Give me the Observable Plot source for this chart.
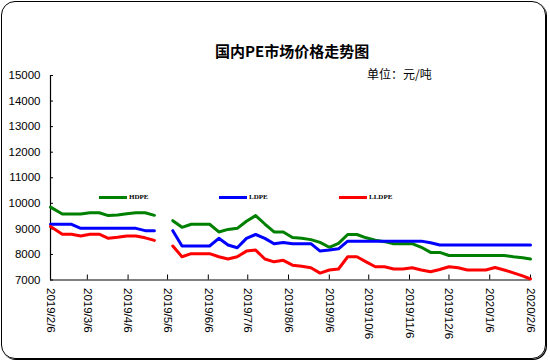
<!DOCTYPE html>
<html><head><meta charset="utf-8">
<script src="https://cdn.jsdelivr.net/npm/d3@7"></script>
<script src="https://cdn.jsdelivr.net/npm/@observablehq/plot@0.6"></script>
<style>
body{margin:0;background:#fff;}
#wrap{position:relative;width:550px;height:364px;overflow:hidden;font-family:"Liberation Sans",Arial,sans-serif;}
#frame{position:absolute;left:1px;top:1px;width:543px;height:356px;border:1.5px solid #000;border-radius:14px;box-shadow:1px 1px 0 #000;}
#chart{position:absolute;left:0;top:0;}
#title{position:absolute;left:215px;top:40px;width:150px;text-align:center;font:bold 15px "Noto Sans CJK SC";color:#000;white-space:nowrap;}
#unit{position:absolute;left:367px;top:65px;font:12px "Noto Sans CJK SC";color:#000;white-space:nowrap;}
.lg{position:absolute;top:193px;height:10px;font:bold 7px "Liberation Serif",serif;color:#000;white-space:nowrap;}
.lg span.sw{display:inline-block;width:28px;height:3px;vertical-align:middle;margin-right:2px;}
</style></head>
<body>
<div id="wrap">
  <div id="frame"></div>
  <div id="chart"></div>
  <div id="title">国内PE市场价格走势图</div>
  <div id="unit">单位：元/吨</div>
  <div id="legend"></div>
</div>
<script>
const dates = ["2019-02-06","2019-02-15","2019-02-22","2019-03-01","2019-03-08","2019-03-15","2019-03-22","2019-03-29","2019-04-05","2019-04-12","2019-04-19","2019-04-26","2019-05-03","2019-05-10","2019-05-17","2019-05-24","2019-05-31","2019-06-07","2019-06-14","2019-06-21","2019-06-28","2019-07-05","2019-07-12","2019-07-19","2019-07-26","2019-08-02","2019-08-09","2019-08-16","2019-08-23","2019-08-30","2019-09-06","2019-09-13","2019-09-20","2019-09-27","2019-10-04","2019-10-11","2019-10-18","2019-10-25","2019-11-01","2019-11-08","2019-11-15","2019-11-22","2019-11-29","2019-12-06","2019-12-13","2019-12-20","2019-12-27","2020-01-03","2020-01-10","2020-01-17","2020-01-24","2020-01-31","2020-02-06"];
const hdpe = [9850,9580,9580,9580,9630,9630,9520,9540,9590,9630,9630,9530,null,9320,9060,9180,9180,9180,8880,8980,9020,9300,9520,9190,8880,8880,8660,8630,8580,8470,8280,8430,8780,8780,8650,8560,8500,8420,8420,8420,8280,8080,8080,7960,7960,7960,7960,7960,7960,7960,7910,7870,7820];
const ldpe = [9180,9180,9180,9020,9020,9020,9020,9020,9020,9020,8930,8930,null,8930,8330,8330,8330,8330,8630,8370,8260,8630,8780,8630,8420,8470,8420,8420,8420,8130,8170,8220,8520,8520,8520,8520,8520,8520,8520,8520,8520,8460,8370,8370,8370,8370,8370,8370,8370,8370,8370,8370,8370];
const lldpe = [9090,8790,8790,8720,8790,8790,8630,8670,8720,8720,8650,8550,null,8330,7910,8030,8030,8030,7910,7820,7910,8130,8170,7820,7710,7770,7580,7540,7480,7270,7390,7430,7910,7910,7710,7520,7520,7430,7430,7480,7390,7320,7410,7520,7480,7390,7390,7390,7490,7390,7280,7160,7040];
const seriesNames = ["HDPE","LDPE","LLDPE"];
const seriesColors = ["#008000","#0000ff","#ff0000"];
const legendLabels = ["HDPE","LDPE","LLDPE"];
const yTicks = [7000,8000,9000,10000,11000,12000,13000,14000,15000];
const xTickLabels = ["2019-02-06","2019-03-06","2019-04-06","2019-05-06","2019-06-06","2019-07-06","2019-08-06","2019-09-06","2019-10-06","2019-11-06","2019-12-06","2020-01-06","2020-02-06"];

const valuesBySeries = [hdpe, ldpe, lldpe];
const rows = [];
seriesNames.forEach((s, i) => {
  dates.forEach((d, j) => rows.push({date: new Date(d), value: valuesBySeries[i][j], series: s}));
});
const xTicks = xTickLabels.map(d => new Date(d));
const x0 = new Date("2019-02-06"), x1 = new Date("2020-02-06");

const chart = Plot.plot({
  width: 550, height: 364,
  marginLeft: 50, marginRight: 20, marginTop: 75, marginBottom: 84.5,
  style: {background: "transparent", fontFamily: "'Liberation Sans', Arial, sans-serif", color: "#000"},
  x: {type: "utc", domain: [x0, x1], label: null},
  y: {domain: [7000, 15000], label: null},
  color: {domain: seriesNames, range: seriesColors},
  marks: [
    Plot.ruleY([7000], {stroke: "#000", strokeWidth: 1.2}),
    Plot.ruleX([x0], {stroke: "#000", strokeWidth: 1.2}),
    Plot.axisY({ticks: yTicks, tickFormat: "d", tickSize: -3, tickPadding: 13, fontSize: 11.5, stroke: "#000", label: null}),
    Plot.axisX({ticks: xTicks, tickFormat: d3.utcFormat("%Y/%-m/%-d"), tickRotate: 90, tickSize: -5, tickPadding: 13, fontSize: 11.5, stroke: "#000", label: null}),
    Plot.line(rows, {x: "date", y: "value", z: "series", stroke: "series", strokeWidth: 3})
  ]
});
document.getElementById("chart").appendChild(chart);

const legendX = [99, 219, 339];
const lg = document.getElementById("legend");
legendLabels.forEach((name, i) => {
  const el = document.createElement("div");
  el.className = "lg";
  el.style.left = legendX[i] + "px";
  el.innerHTML = `<span class="sw" style="background:${seriesColors[i]}"></span>${name}`;
  lg.appendChild(el);
});
</script>
</body></html>
